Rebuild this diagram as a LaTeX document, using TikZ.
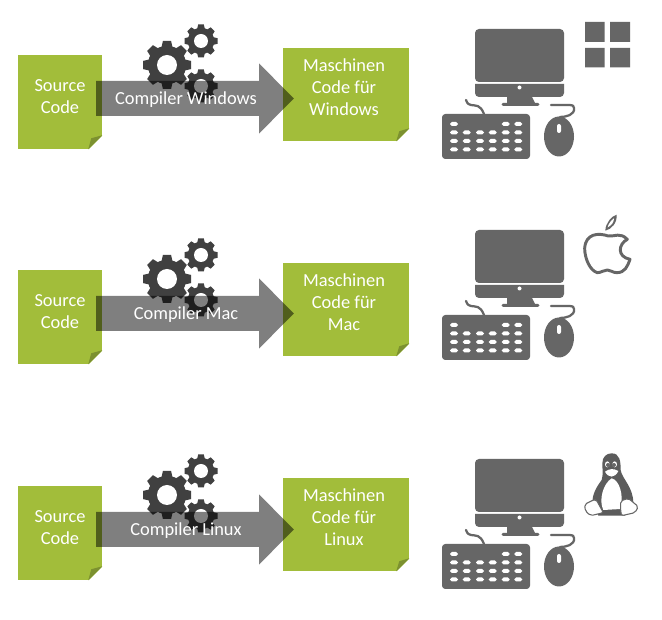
\documentclass[tikz,border=0pt]{standalone}
\usepackage{fontspec}
\setmainfont{Carlito}
\usetikzlibrary{arrows.meta,calc}
\definecolor{leaf}{HTML}{A2BD3A}
\definecolor{leafdark}{HTML}{7C9130}
\definecolor{icon}{HTML}{666666}
\definecolor{gearc}{HTML}{404040}
\tikzset{
  x=.75pt,y=-.75pt,
  note/.style={fill=leaf,inner sep=0pt,minimum width=#1,align=center,text=white,font=\fontsize{13.8}{16.5}\selectfont},
  srcnote/.style={note=63pt,minimum height=70.5pt},
  tgtnote/.style={note=94.5pt,minimum height=69.75pt},
  comp/.style={text=white,inner sep=0pt,font=\fontsize{13.8}{15}\selectfont},
  blockarrow/.style={line width=26.25pt,draw=black,-{Triangle[length=26.25pt,width=51pt]}},
  iconfill/.style={fill=icon,draw=none},
  keycap/.style={fill=white,draw=none,rounded corners=1.4pt},
}
\newcommand{\foldcorner}[2]{% corner node, size
  \fill[white] ($(#1)+(.3,.3)$) -- ++(-#2,0) -- ++(#2,-#2) -- cycle;
  \fill[leafdark] (#1)+(0,-#2) -- ++(-#2,0) -- ($(#1)+(-#2+3,-#2+3)$) -- cycle;
}
\newcommand{\cog}[4]{% x, y, outer r, hole r
  \begin{scope}[shift={(#1,#2)}]
    \fill[gearc] (0,0) circle ({#3*.8});
    \foreach \a in {0,45,...,315}{
      \fill[gearc,rotate=\a] ({-#3*.24},{-#3*.7}) -- ({-#3*.17},{-#3}) -- ({#3*.17},{-#3}) -- ({#3*.24},{-#3*.7}) -- cycle;
    }
    \fill[white] (0,0) circle (#4);
  \end{scope}
}
\newcommand{\computer}{%
  \fill[iconfill,rounded corners=3pt] (475,82) -- (475,29) -- (564,29) -- (564,82) -- cycle;
  \fill[iconfill] (475,84) -- (564,84) -- (564,93) arc[start angle=0,end angle=90,radius=4] -- (532,97)
     -- (535,103) -- (538,103) arc[start angle=-90,end angle=90,radius=1.5] -- (503,106)
     arc[start angle=90,end angle=270,radius=1.5] -- (507,103) -- (507,97) -- (479,97) arc[start angle=90,end angle=180,radius=4] -- cycle;
  \fill[white] (519.5,87.5) circle (2);
  \fill[iconfill,rounded corners=2.5pt] (442,114) rectangle (530,159);
  \draw[icon,line width=1.7pt,line cap=round] (484,114) .. controls (480,104) and (476,106) .. (471,105) .. controls (467,104) and (467,102) .. (466,100);
  \foreach \kx in {454,505.7,518.3}{\fill[keycap] (\kx-4,122) rectangle (\kx+4,126);}
  \foreach \ky in {132.5,141,149.5}{
    \foreach \kx in {454,466.7,480,492.7,505.7,518.3}{\fill[keycap] (\kx-4,\ky-2) rectangle (\kx+4,\ky+2);}
  }
  \fill[iconfill] (559,136.5) ellipse[x radius=15,y radius=20];
  \fill[white,rounded corners=1.5pt] (557,124) rectangle (561,133);
  \draw[icon,line width=1.7pt,line cap=round] (560,117) .. controls (566,117) and (575,115) .. (574,108) .. controls (574,104) and (570,105) .. (551,105);
}
\newcommand{\buildrow}[9]{%
  % #1 prefix, #2 box offset, #3 target offset, #4 gear offset, #5 arrow offset, #6 compiler label, #7 target os, #8 label x, #9 label y
  \begin{scope}[yshift={-.75pt*#4}]
    \cog{167}{65}{24}{10}\cog{201}{41}{16.5}{7}\cog{201}{86}{16.5}{7}
  \end{scope}
  \node[srcnote] (#1src) at (60,{102+#2}) {};
  \node[tgtnote] (#1tgt) at (346,{94.5+#3}) {};
  \foldcorner{#1src.south east}{14}
  \foldcorner{#1tgt.south east}{13}
  \node[note=63pt,fill=none] (#1srctext) at (60,{97+#2}) {Source\\Code};
  \node[note=94.5pt,fill=none] (#1tgttext) at (344,{87+#3}) {Maschinen\\Code für\\#7};
  \coordinate (#1from) at (96,{98.5+#5});
  \coordinate (#1to) at (294,{98.5+#5});
  \begin{scope}[transparency group,opacity=.5]
    \draw[blockarrow] (#1from) -- (#1to);
  \end{scope}
  \node[comp] (#1comp) at (#8,#9) {#6};
}
\begin{document}
\begin{tikzpicture}
\useasboundingbox[fill=white] (0,0) rectangle (662,620);
\buildrow{a}{0}{0}{0}{0}{Compiler Windows}{Windows}{186}{100}
\buildrow{b}{215}{215}{214}{215}{Compiler Mac}{Mac}{186}{315}
\buildrow{c}{431}{430}{430}{431}{Compiler Linux}{Linux}{186}{531}
\computer
\begin{scope}[yshift={-.75pt*201}]\computer\end{scope}
\begin{scope}[yshift={-.75pt*430}]\computer\end{scope}
% windows logo
\fill[icon] (585,22) rectangle (604.5,42) (610,22) rectangle (630,42) (585,48) rectangle (604.5,67.5) (610,48) rectangle (630,67.5);
% apple
\begin{scope}[shift={(570,220)},x=.25pt,y=-.25pt]
\draw[icon,line width=2.2pt,line join=round] (115,48) .. controls (135,50) and (150,36) .. (172,58) .. controls (145,72) and (140,110) .. (180,118)
  .. controls (172,140) and (165,158) .. (140,158) .. controls (128,158) and (122,150) .. (112,150) .. controls (100,150) and (95,158) .. (82,158)
  .. controls (60,152) and (44,115) .. (44,85) .. controls (47,40) and (85,38) .. (115,48) -- cycle;
\fill[icon] (106,32) .. controls (106,10) and (125,-12) .. (140,-16) .. controls (142,8) and (125,28) .. (106,32) -- cycle;
\fill[white] (113,22) .. controls (115,12) and (124,0) .. (132,-5) .. controls (132,6) and (124,17) .. (113,22) -- cycle;
\end{scope}
% tux
\begin{scope}[shift={(570,445)},x=.25pt,y=-.25pt]
\fill[icon!90!black] (125,25) .. controls (150,25) and (152,50) .. (152,75) .. controls (155,100) and (190,125) .. (190,175) -- (165,212) -- (85,212) -- (68,175) .. controls (65,150) and (80,125) .. (95,105) .. controls (100,90) and (97,70) .. (97,55) .. controls (97,35) and (110,25) .. (125,25) -- cycle;
\fill[white] (125,100) .. controls (148,105) and (162,150) .. (152,192) -- (100,195) .. controls (85,165) and (100,115) .. (125,100) -- cycle;
\fill[white] (112,58) ellipse[x radius=7,y radius=9] (134,58) ellipse[x radius=7,y radius=9];
\fill[icon] (114,60) circle (6) (132,60) circle (6);
\fill[white] (105,80) .. controls (120,70) and (130,70) .. (145,78) .. controls (135,100) and (115,100) .. (105,80) -- cycle;
\draw[icon,line width=.8pt,fill=white,line join=round,rounded corners=1.5pt] (44,178) -- (70,165) -- (78,163) -- (100,203) -- (62,212) -- (46,198) -- cycle;
\draw[icon,line width=.8pt,fill=white,line join=round,rounded corners=1.5pt] (152,200) -- (152,168) -- (175,160) -- (205,185) -- (195,203) -- (155,212) -- cycle;
\end{scope}
\end{tikzpicture}
\end{document}
